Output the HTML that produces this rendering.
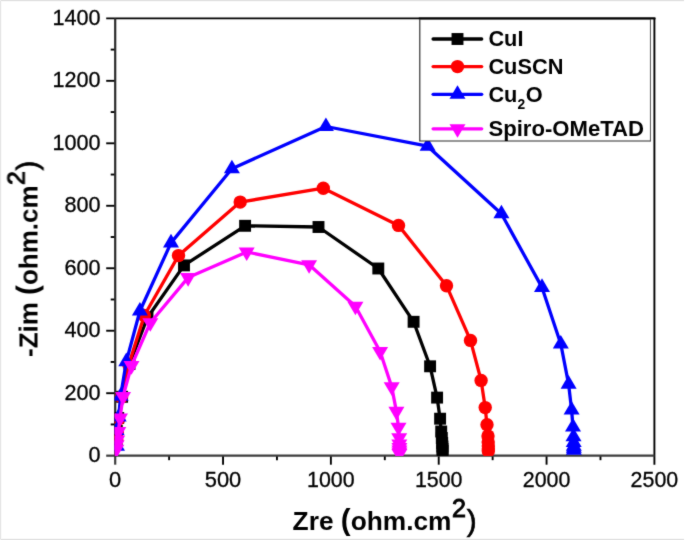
<!DOCTYPE html>
<html><head><meta charset="utf-8"><title>Nyquist plot</title>
<style>
html,body{margin:0;padding:0;background:#fff;}
body{width:685px;height:540px;position:relative;overflow:hidden;font-family:"Liberation Sans",sans-serif;}
svg text{font-family:"Liberation Sans",sans-serif;}
svg g.t{filter:grayscale(1);}
</style></head><body>
<svg width="685" height="540" viewBox="0 0 685 540" style="position:absolute;left:0;top:0">
<defs><clipPath id="cp"><rect x="114.60" y="0" width="600" height="455.88"/></clipPath>
<filter id="soft" x="0" y="0" width="685" height="540" filterUnits="userSpaceOnUse" color-interpolation-filters="sRGB"><feConvolveMatrix order="3" kernelMatrix="0.02 0.075 0.02 0.075 0.620 0.075 0.02 0.075 0.02" divisor="1" edgeMode="duplicate" preserveAlpha="false"/></filter></defs>
<rect x="0" y="0" width="685" height="540" fill="#fff"/>
<g filter="url(#soft)"><rect x="0" y="0" width="685" height="540" fill="#fff"/>
<rect x="1" y="0" width="683" height="1" fill="#dfdfdf"/>
<rect x="0" y="1" width="1" height="538" fill="#e4e4e4"/>
<rect x="1" y="539" width="683" height="1" fill="#dfdfdf"/>
<rect x="0" y="0" width="1" height="1" fill="#f0f0f0"/><rect x="0" y="539" width="1" height="1" fill="#f0f0f0"/>
<rect x="1" y="1" width="683" height="1" fill="#fbfbfb"/><rect x="1" y="538" width="683" height="1" fill="#fbfbfb"/><rect x="1" y="2" width="1" height="536" fill="#fbfbfb"/>
<g stroke="#000" stroke-width="1.9" fill="none"><line x1="106.20" y1="18.35" x2="655.35" y2="18.35"/><line x1="654.4" y1="18.35" x2="654.4" y2="464.68"/><line x1="106.20" y1="393.20" x2="115.2" y2="393.20"/><line x1="106.20" y1="330.73" x2="115.2" y2="330.73"/><line x1="106.20" y1="268.25" x2="115.2" y2="268.25"/><line x1="106.20" y1="205.78" x2="115.2" y2="205.78"/><line x1="106.20" y1="143.30" x2="115.2" y2="143.30"/><line x1="106.20" y1="80.83" x2="115.2" y2="80.83"/><line x1="110.70" y1="424.44" x2="115.2" y2="424.44"/><line x1="110.70" y1="361.97" x2="115.2" y2="361.97"/><line x1="110.70" y1="299.49" x2="115.2" y2="299.49"/><line x1="110.70" y1="237.02" x2="115.2" y2="237.02"/><line x1="110.70" y1="174.54" x2="115.2" y2="174.54"/><line x1="110.70" y1="112.06" x2="115.2" y2="112.06"/><line x1="110.70" y1="49.59" x2="115.2" y2="49.59"/><line x1="223.04" y1="455.68" x2="223.04" y2="464.68"/><line x1="330.88" y1="455.68" x2="330.88" y2="464.68"/><line x1="438.72" y1="455.68" x2="438.72" y2="464.68"/><line x1="546.56" y1="455.68" x2="546.56" y2="464.68"/><line x1="169.12" y1="455.68" x2="169.12" y2="460.18"/><line x1="276.96" y1="455.68" x2="276.96" y2="460.18"/><line x1="384.80" y1="455.68" x2="384.80" y2="460.18"/><line x1="492.64" y1="455.68" x2="492.64" y2="460.18"/><line x1="600.48" y1="455.68" x2="600.48" y2="460.18"/></g>
<g stroke="#3c3c3c" stroke-width="2.2" fill="none"><line x1="106.20" y1="455.68" x2="115.20" y2="455.68"/><line x1="114.20" y1="455.68" x2="654.40" y2="455.68"/><line x1="115.2" y1="18.35" x2="115.2" y2="456.68" stroke="#2a2a2a"/><line x1="115.2" y1="455.68" x2="115.2" y2="464.68"/></g>
<g class="t" font-family="Liberation Sans, sans-serif" font-size="21.9" fill="#000" stroke="#000" stroke-width="0.3">
<text x="100.6" y="462.18" font-size="21.6" text-anchor="end">0</text>
<text x="100.6" y="399.70" font-size="21.6" text-anchor="end">200</text>
<text x="100.6" y="337.23" font-size="21.6" text-anchor="end">400</text>
<text x="100.6" y="274.75" font-size="21.6" text-anchor="end">600</text>
<text x="100.6" y="212.28" font-size="21.6" text-anchor="end">800</text>
<text x="100.6" y="149.80" font-size="21.6" text-anchor="end">1000</text>
<text x="100.6" y="87.33" font-size="21.6" text-anchor="end">1200</text>
<text x="100.6" y="24.85" font-size="21.6" text-anchor="end">1400</text>
<text x="115.20" y="487.0" font-size="21.9" text-anchor="middle">0</text>
<text x="223.04" y="487.0" font-size="21.9" text-anchor="middle">500</text>
<text x="330.88" y="487.0" font-size="21.4" text-anchor="middle">1000</text>
<text x="438.72" y="487.0" font-size="21.4" text-anchor="middle">1500</text>
<text x="546.56" y="487.0" font-size="21.4" text-anchor="middle">2000</text>
<text x="654.40" y="487.0" font-size="21.4" text-anchor="middle">2500</text>
</g>
<g clip-path="url(#cp)">
<polyline points="116.60,440.00 116.80,431.00 118.20,418.00 122.10,396.80 129.50,364.00 147.50,317.50 184.00,265.40 245.10,225.80 318.50,227.00 378.30,268.50 413.60,321.80 430.10,366.30 437.10,397.60 440.10,418.70 441.20,431.50 441.80,438.00 442.20,443.00 442.40,446.50 442.50,449.00 442.60,451.00" fill="none" stroke="#000000" stroke-width="3.3" stroke-linejoin="round"/>
<rect x="110.65" y="434.05" width="11.9" height="11.9" fill="#000000"/>
<rect x="110.85" y="425.05" width="11.9" height="11.9" fill="#000000"/>
<rect x="112.25" y="412.05" width="11.9" height="11.9" fill="#000000"/>
<rect x="116.15" y="390.85" width="11.9" height="11.9" fill="#000000"/>
<rect x="123.55" y="358.05" width="11.9" height="11.9" fill="#000000"/>
<rect x="141.55" y="311.55" width="11.9" height="11.9" fill="#000000"/>
<rect x="178.05" y="259.45" width="11.9" height="11.9" fill="#000000"/>
<rect x="239.15" y="219.85" width="11.9" height="11.9" fill="#000000"/>
<rect x="312.55" y="221.05" width="11.9" height="11.9" fill="#000000"/>
<rect x="372.35" y="262.55" width="11.9" height="11.9" fill="#000000"/>
<rect x="407.65" y="315.85" width="11.9" height="11.9" fill="#000000"/>
<rect x="424.15" y="360.35" width="11.9" height="11.9" fill="#000000"/>
<rect x="431.15" y="391.65" width="11.9" height="11.9" fill="#000000"/>
<rect x="434.15" y="412.75" width="11.9" height="11.9" fill="#000000"/>
<rect x="435.25" y="425.55" width="11.9" height="11.9" fill="#000000"/>
<rect x="435.85" y="432.05" width="11.9" height="11.9" fill="#000000"/>
<rect x="436.25" y="437.05" width="11.9" height="11.9" fill="#000000"/>
<rect x="436.45" y="440.55" width="11.9" height="11.9" fill="#000000"/>
<rect x="436.55" y="443.05" width="11.9" height="11.9" fill="#000000"/>
<rect x="436.65" y="445.05" width="11.9" height="11.9" fill="#000000"/>
<polyline points="116.80,440.00 117.30,432.00 118.60,419.00 121.50,397.00 128.80,364.50 144.30,315.50 178.50,255.60 240.20,202.10 323.30,188.20 398.50,225.40 446.50,285.70 470.50,340.40 481.10,380.40 485.20,407.60 487.00,424.80 488.00,435.90 488.20,442.00 488.30,446.00 488.30,449.00 488.30,451.00" fill="none" stroke="#ff0000" stroke-width="3.3" stroke-linejoin="round"/>
<circle cx="116.80" cy="440.00" r="6.7" fill="#ff0000"/>
<circle cx="117.30" cy="432.00" r="6.7" fill="#ff0000"/>
<circle cx="118.60" cy="419.00" r="6.7" fill="#ff0000"/>
<circle cx="121.50" cy="397.00" r="6.7" fill="#ff0000"/>
<circle cx="128.80" cy="364.50" r="6.7" fill="#ff0000"/>
<circle cx="144.30" cy="315.50" r="6.7" fill="#ff0000"/>
<circle cx="178.50" cy="255.60" r="6.7" fill="#ff0000"/>
<circle cx="240.20" cy="202.10" r="6.7" fill="#ff0000"/>
<circle cx="323.30" cy="188.20" r="6.7" fill="#ff0000"/>
<circle cx="398.50" cy="225.40" r="6.7" fill="#ff0000"/>
<circle cx="446.50" cy="285.70" r="6.7" fill="#ff0000"/>
<circle cx="470.50" cy="340.40" r="6.7" fill="#ff0000"/>
<circle cx="481.10" cy="380.40" r="6.7" fill="#ff0000"/>
<circle cx="485.20" cy="407.60" r="6.7" fill="#ff0000"/>
<circle cx="487.00" cy="424.80" r="6.7" fill="#ff0000"/>
<circle cx="488.00" cy="435.90" r="6.7" fill="#ff0000"/>
<circle cx="488.20" cy="442.00" r="6.7" fill="#ff0000"/>
<circle cx="488.30" cy="446.00" r="6.7" fill="#ff0000"/>
<circle cx="488.30" cy="449.00" r="6.7" fill="#ff0000"/>
<circle cx="488.30" cy="451.00" r="6.7" fill="#ff0000"/>
<polyline points="117.00,446.20 116.50,430.50 118.70,417.00 120.60,396.30 126.30,361.60 139.90,311.00 171.00,242.90 231.90,168.70 325.90,126.50 427.60,146.20 501.40,213.80 542.00,287.40 560.80,344.00 568.60,384.10 571.60,410.00 573.00,427.00 573.50,436.70 573.70,442.50 573.80,446.10 573.80,448.30 573.80,450.30" fill="none" stroke="#0000ff" stroke-width="3.3" stroke-linejoin="round"/>
<polygon points="117.00,437.13 125.00,450.73 109.00,450.73" fill="#0000ff"/>
<polygon points="116.50,421.43 124.50,435.03 108.50,435.03" fill="#0000ff"/>
<polygon points="118.70,407.93 126.70,421.53 110.70,421.53" fill="#0000ff"/>
<polygon points="120.60,387.23 128.60,400.83 112.60,400.83" fill="#0000ff"/>
<polygon points="126.30,352.53 134.30,366.13 118.30,366.13" fill="#0000ff"/>
<polygon points="139.90,301.93 147.90,315.53 131.90,315.53" fill="#0000ff"/>
<polygon points="171.00,233.83 179.00,247.43 163.00,247.43" fill="#0000ff"/>
<polygon points="231.90,159.63 239.90,173.23 223.90,173.23" fill="#0000ff"/>
<polygon points="325.90,117.43 333.90,131.03 317.90,131.03" fill="#0000ff"/>
<polygon points="427.60,137.13 435.60,150.73 419.60,150.73" fill="#0000ff"/>
<polygon points="501.40,204.73 509.40,218.33 493.40,218.33" fill="#0000ff"/>
<polygon points="542.00,278.33 550.00,291.93 534.00,291.93" fill="#0000ff"/>
<polygon points="560.80,334.93 568.80,348.53 552.80,348.53" fill="#0000ff"/>
<polygon points="568.60,375.03 576.60,388.63 560.60,388.63" fill="#0000ff"/>
<polygon points="571.60,400.93 579.60,414.53 563.60,414.53" fill="#0000ff"/>
<polygon points="573.00,417.93 581.00,431.53 565.00,431.53" fill="#0000ff"/>
<polygon points="573.50,427.63 581.50,441.23 565.50,441.23" fill="#0000ff"/>
<polygon points="573.70,433.43 581.70,447.03 565.70,447.03" fill="#0000ff"/>
<polygon points="573.80,437.03 581.80,450.63 565.80,450.63" fill="#0000ff"/>
<polygon points="573.80,439.23 581.80,452.83 565.80,452.83" fill="#0000ff"/>
<polygon points="573.80,441.23 581.80,454.83 565.80,454.83" fill="#0000ff"/>
<polyline points="116.30,449.40 116.60,444.70 117.20,440.10 118.30,431.50 120.00,418.00 123.00,396.50 131.50,365.60 150.30,322.70 188.10,277.60 246.70,252.00 309.10,264.80 355.40,306.30 380.10,351.50 391.70,386.70 396.40,411.40 398.50,427.20 399.20,437.70 399.30,444.00 399.40,447.50 399.40,450.00 399.40,452.00 399.40,453.50" fill="none" stroke="#ff00ff" stroke-width="3.3" stroke-linejoin="round"/>
<polygon points="116.30,458.47 124.30,444.87 108.30,444.87" fill="#ff00ff"/>
<polygon points="116.60,453.77 124.60,440.17 108.60,440.17" fill="#ff00ff"/>
<polygon points="117.20,449.17 125.20,435.57 109.20,435.57" fill="#ff00ff"/>
<polygon points="118.30,440.57 126.30,426.97 110.30,426.97" fill="#ff00ff"/>
<polygon points="120.00,427.07 128.00,413.47 112.00,413.47" fill="#ff00ff"/>
<polygon points="123.00,405.57 131.00,391.97 115.00,391.97" fill="#ff00ff"/>
<polygon points="131.50,374.67 139.50,361.07 123.50,361.07" fill="#ff00ff"/>
<polygon points="150.30,331.77 158.30,318.17 142.30,318.17" fill="#ff00ff"/>
<polygon points="188.10,286.67 196.10,273.07 180.10,273.07" fill="#ff00ff"/>
<polygon points="246.70,261.07 254.70,247.47 238.70,247.47" fill="#ff00ff"/>
<polygon points="309.10,273.87 317.10,260.27 301.10,260.27" fill="#ff00ff"/>
<polygon points="355.40,315.37 363.40,301.77 347.40,301.77" fill="#ff00ff"/>
<polygon points="380.10,360.57 388.10,346.97 372.10,346.97" fill="#ff00ff"/>
<polygon points="391.70,395.77 399.70,382.17 383.70,382.17" fill="#ff00ff"/>
<polygon points="396.40,420.47 404.40,406.87 388.40,406.87" fill="#ff00ff"/>
<polygon points="398.50,436.27 406.50,422.67 390.50,422.67" fill="#ff00ff"/>
<polygon points="399.20,446.77 407.20,433.17 391.20,433.17" fill="#ff00ff"/>
<polygon points="399.30,453.07 407.30,439.47 391.30,439.47" fill="#ff00ff"/>
<polygon points="399.40,456.57 407.40,442.97 391.40,442.97" fill="#ff00ff"/>
<polygon points="399.40,459.07 407.40,445.47 391.40,445.47" fill="#ff00ff"/>
<polygon points="399.40,461.07 407.40,447.47 391.40,447.47" fill="#ff00ff"/>
<polygon points="399.40,462.57 407.40,448.97 391.40,448.97" fill="#ff00ff"/>
</g>
<rect x="419.8" y="19.2" width="230.65" height="121.80" fill="#fff"/>
<path d="M419.8 19.2 V141.0 H650.45" fill="none" stroke="#2a2a2a" stroke-width="1.15"/>
<path d="M650.45 141.5 V19.2 H419.8" fill="none" stroke="#555" stroke-width="1.0"/>
<line x1="418.8" y1="18.35" x2="655.35" y2="18.35" stroke="#000" stroke-width="1.9"/>
<line x1="433.1" y1="39.0" x2="481.7" y2="39.0" stroke="#000000" stroke-width="3.3" stroke-linecap="round"/>
<rect x="451.55" y="33.05" width="11.9" height="11.9" fill="#000000"/>
<line x1="433.1" y1="66.6" x2="481.7" y2="66.6" stroke="#ff0000" stroke-width="3.3" stroke-linecap="round"/>
<circle cx="457.50" cy="66.60" r="6.7" fill="#ff0000"/>
<line x1="433.1" y1="94.3" x2="481.7" y2="94.3" stroke="#0000ff" stroke-width="3.3" stroke-linecap="round"/>
<polygon points="457.50,85.23 465.50,98.83 449.50,98.83" fill="#0000ff"/>
<line x1="433.1" y1="128.8" x2="481.7" y2="128.8" stroke="#ff00ff" stroke-width="3.3" stroke-linecap="round"/>
<polygon points="457.50,137.87 465.50,124.27 449.50,124.27" fill="#ff00ff"/>
<g class="t" font-family="Liberation Sans, sans-serif" font-size="22.1" font-weight="bold" fill="#000">
<text transform="translate(488.4,46.4) scale(0.985,1.03)" x="0" y="0">CuI</text>
<text transform="translate(488.4,74.0) scale(0.985,1.03)" x="0" y="0">CuSCN</text>
<text transform="translate(488.4,101.9) scale(0.985,1.03)" x="0" y="0">Cu<tspan font-size="14" dy="7.0" dx="0.2">2</tspan><tspan dy="-7.0" dx="0.4">O</tspan></text>
<text transform="translate(488.4,135.6) scale(1.001,1.03)" x="0" y="0">Spiro-OMeTAD</text>
</g>
<g class="t" font-family="Liberation Sans, sans-serif" font-size="26.3" font-weight="bold" fill="#000">
<text x="292.6" y="529.6"><tspan font-size="26.3">Zre </tspan><tspan font-size="29.5" dy="0.4">(</tspan><tspan font-size="26.3" dy="-0.4">ohm.cm</tspan><tspan font-size="25.1" font-weight="normal" stroke="#000" stroke-width="1.0" dy="-12.2" dx="0.4">2</tspan><tspan font-size="29.5" font-weight="normal" stroke="#000" stroke-width="0.7" dy="13.2" dx="0.8">)</tspan></text>
<text transform="translate(37.5,357) rotate(-90)" x="0" y="0"><tspan font-size="26.0">-Zim </tspan><tspan font-size="29.5" dy="-0.5">(</tspan><tspan font-size="26.0" dy="0.5">ohm.cm</tspan><tspan font-size="24.8" font-weight="normal" stroke="#000" stroke-width="1.0" dy="-12.8" dx="0.4">2</tspan><tspan font-size="29.5" font-weight="normal" stroke="#000" stroke-width="0.7" dy="12.3" dx="0.8">)</tspan></text>
</g>
</g></svg>
</body></html>
